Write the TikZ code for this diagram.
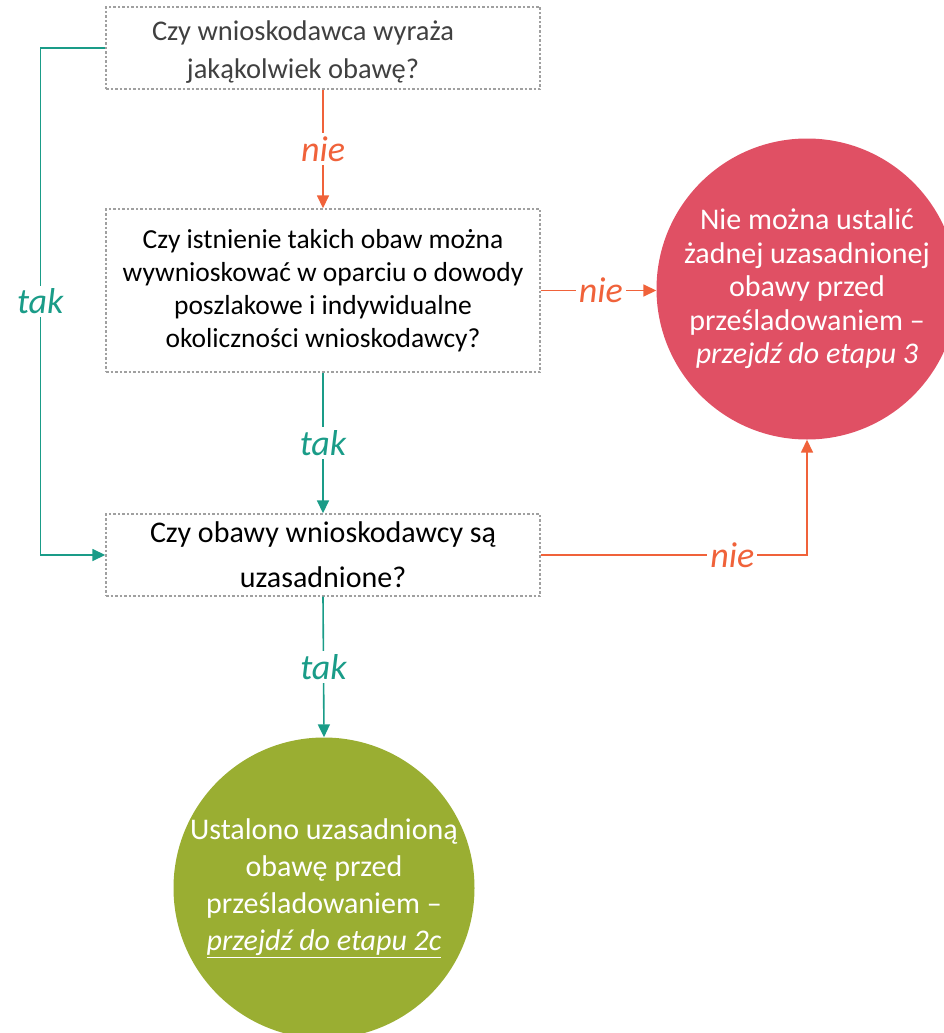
\documentclass[tikz,border=0pt]{standalone}
\usepackage{fontspec}
\setmainfont{Carlito}
\usetikzlibrary{arrows.meta}

\definecolor{tealline}{RGB}{26,156,136}
\definecolor{orangeline}{RGB}{240,98,58}
\definecolor{redfill}{RGB}{224,80,100}
\definecolor{greenfill}{RGB}{154,174,50}
\definecolor{boxline}{RGB}{160,160,160}
\definecolor{darktext}{RGB}{64,64,64}

\tikzset{
  qbox/.style={draw=boxline, line width=1.4pt, dash pattern=on 2.5pt off 2pt,
    minimum width=434pt, align=center, inner sep=0pt},
  endcircle/.style={circle, minimum size=301pt, inner sep=0pt, align=center,
    text=white, font=\fontsize{30}{33.5}\selectfont},
  yesline/.style={draw=tealline, line width=1.6pt, -{Triangle[length=13pt,width=12pt]}},
  noline/.style={draw=orangeline, line width=1.6pt, -{Triangle[length=13pt,width=12pt]}},
  lbl/.style={fill=white, inner sep=3pt, font=\fontsize{36}{36}\selectfont\itshape}
}

\begin{document}
\begin{tikzpicture}[x=1pt,y=-1pt]
\useasboundingbox (0,0) rectangle (944,1033);
\clip (0,0) rectangle (944,1033);

% question boxes
\node[qbox, minimum height=82pt] (q1) at (323,48) {};
\node[align=center, inner sep=0pt, text=darktext, font=\fontsize{28.5}{38}\selectfont]
  (q1text) at (303,52) {Czy wnioskodawca wyraża\\jakąkolwiek obawę?};
\node[qbox, minimum height=163pt, font=\fontsize{27.5}{33}\selectfont] (q2) at (323,290.5)
  {Czy istnienie takich obaw można\\wywnioskować w oparciu o dowody\\poszlakowe i indywidualne\\okoliczności wnioskodawcy?};
\node[qbox, minimum height=82pt, font=\fontsize{30}{45}\selectfont] (q3) at (323,555)
  {Czy obawy wnioskodawcy są\\uzasadnione?};

% outcome circles
\node[endcircle, fill=redfill] (r) at (807,289)
  {Nie można ustalić\\żadnej uzasadnionej\\obawy przed\\prześladowaniem –\\\textit{przejdź do etapu 3}};
\node[endcircle, fill=greenfill, font=\fontsize{30}{37}\selectfont] (g) at (324,888)
  {Ustalono uzasadnioną\\obawę przed\\prześladowaniem –\\\textit{\underline{przejdź do etapu 2c}}};

% connectors
\draw[noline] (q1.south) -- node[lbl, text=orangeline] {nie} (q2.north);
\draw[yesline] (q1.west) -- ++(-65,0) |- node[lbl, text=tealline, pos=0.25] {tak} (q3.west);
\draw[yesline] (q2.south) -- node[lbl, text=tealline] {tak} (q3.north);
\draw[noline] (q2.east) -- node[lbl, text=orangeline, pos=0.52] {nie} (r.west |- q2.east);
\draw[noline] (q3.east) -| node[lbl, text=orangeline, pos=0.36] {nie} (r.south);
\draw[yesline] (q3.south) -- node[lbl, text=tealline] {tak} (g.north);
\end{tikzpicture}
\end{document}
